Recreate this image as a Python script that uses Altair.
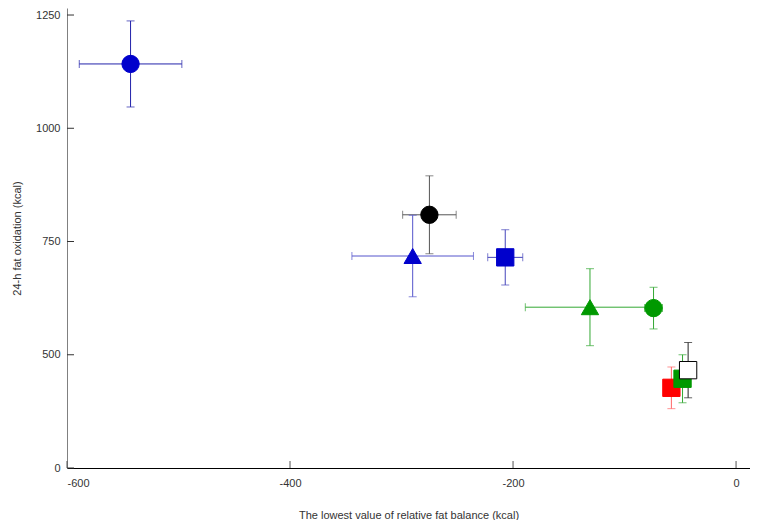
import altair as alt
import pandas as pd

# ---- data ----
point_ids = ["blue_circle", "black_circle", "blue_triangle", "blue_square",
             "green_triangle", "green_circle", "red_square", "green_square", "white_square"]
fat_balance = [-543, -275, -290, -207, -131, -74, -58, -48, -43]
fat_balance_err = [46, 24, 54.5, 15.7, 58, 8, 0, 0, 0]
fat_oxidation = [1142, 809, 718, 715, 605, 603, 427, 447, 466]
fat_oxidation_err = [95, 86, 90, 61, 85, 46, 46, 53, 61]

x_ticks = [-600, -400, -200, 0]
y_ticks = [250, 500, 750, 1000, 1250]
y_tick_labels = ["0", "500", "750", "1000", "1250"]

# ---- styles ----
style = {
    "blue_circle":    dict(shape="circle",      fill="#0000cc", stroke="#0000cc", bar="#2222aa"),
    "black_circle":   dict(shape="circle",      fill="#000000", stroke="#000000", bar="#555555"),
    "blue_triangle":  dict(shape="triangle-up", fill="#0000cc", stroke="#0000cc", bar="#5555cc"),
    "blue_square":    dict(shape="square",      fill="#0000cc", stroke="#0000cc", bar="#4444bb"),
    "green_triangle": dict(shape="triangle-up", fill="#009900", stroke="#009900", bar="#33a833"),
    "green_circle":   dict(shape="circle",      fill="#009900", stroke="#009900", bar="#33a833"),
    "red_square":     dict(shape="square",      fill="#ff0000", stroke="#ff0000", bar="#ff6666"),
    "green_square":   dict(shape="square",      fill="#009900", stroke="#009900", bar="#33a833"),
    "white_square":   dict(shape="square",      fill="#ffffff", stroke="#000000", bar="#222222"),
}

rows = []
for i, pid in enumerate(point_ids):
    s = style[pid]
    rows.append(dict(
        order=i, pid=pid,
        x=fat_balance[i], y=fat_oxidation[i],
        xlo=fat_balance[i] - fat_balance_err[i], xhi=fat_balance[i] + fat_balance_err[i],
        ylo=fat_oxidation[i] - fat_oxidation_err[i], yhi=fat_oxidation[i] + fat_oxidation_err[i],
        xerr=fat_balance_err[i],
        shape=s["shape"], fill=s["fill"], stroke=s["stroke"], bar=s["bar"],
    ))
df = pd.DataFrame(rows)
dfx = df[df["xerr"] > 0]

xcaps = pd.concat([
    dfx[["xlo", "y", "bar", "order"]].rename(columns={"xlo": "cx"}),
    dfx[["xhi", "y", "bar", "order"]].rename(columns={"xhi": "cx"}),
])
ycaps = pd.concat([
    df[["x", "ylo", "bar", "order"]].rename(columns={"ylo": "cy"}),
    df[["x", "yhi", "bar", "order"]].rename(columns={"yhi": "cy"}),
])

W, H = 683, 460
xscale = alt.Scale(domain=[-600, 12.5], nice=False, zero=False)
yscale = alt.Scale(domain=[250, 1265.5], nice=False, zero=False)

label_expr = " : ".join(
    [f"datum.value == {v} ? '{l}'" for v, l in zip(y_ticks, y_tick_labels)]
) + " : ''"

x_axis = alt.Axis(values=x_ticks, ticks=False, tickSize=0, labelPadding=9, grid=False,
                  domainColor="#000000", labelExpr="'' + datum.value",
                  title="The lowest value of relative fat balance (kcal)",
                  titleY=47, titleBaseline="middle", titleFontWeight="normal")
y_axis = alt.Axis(values=y_ticks, ticks=False, tickSize=0, labelPadding=7, grid=False,
                  domainColor="#808080", labelExpr=label_expr,
                  title="24-h fat oxidation (kcal)",
                  titleX=-50, titleY=230, titleAngle=270, titleAlign="center",
                  titleBaseline="middle", titleFontWeight="normal")

base = alt.Chart(df)

hbar = alt.Chart(dfx).mark_rule(strokeWidth=1).encode(
    x=alt.X("xlo:Q", scale=xscale, axis=x_axis),
    x2="xhi:Q",
    y=alt.Y("y:Q", scale=yscale, axis=y_axis),
    color=alt.Color("bar:N", scale=None),
    order="order:Q",
)
vbar = base.mark_rule(strokeWidth=1).encode(
    x=alt.X("x:Q", scale=xscale),
    y=alt.Y("ylo:Q", scale=yscale),
    y2="yhi:Q",
    color=alt.Color("bar:N", scale=None),
)
xcap = alt.Chart(xcaps).mark_tick(orient="vertical", size=8, thickness=1).encode(
    x=alt.X("cx:Q", scale=xscale),
    y=alt.Y("y:Q", scale=yscale),
    color=alt.Color("bar:N", scale=None),
)
ycap = alt.Chart(ycaps).mark_tick(orient="horizontal", size=8, thickness=1).encode(
    x=alt.X("x:Q", scale=xscale),
    y=alt.Y("cy:Q", scale=yscale),
    color=alt.Color("bar:N", scale=None),
)
markers = base.mark_point(filled=True, opacity=1, size=300, strokeWidth=1).encode(
    x=alt.X("x:Q", scale=xscale),
    y=alt.Y("y:Q", scale=yscale),
    shape=alt.Shape("shape:N", scale=None),
    fill=alt.Fill("fill:N", scale=None),
    stroke=alt.Stroke("stroke:N", scale=None),
    order="order:Q",
)

# inward axis ticks
xt = alt.Chart(pd.DataFrame({"v": x_ticks})).mark_rule(color="#555555", strokeWidth=1).encode(
    x=alt.X("v:Q", scale=xscale), y=alt.value(H - 7), y2=alt.value(H))
yt = alt.Chart(pd.DataFrame({"v": y_ticks})).mark_rule(color="#333333", strokeWidth=1).encode(
    y=alt.Y("v:Q", scale=yscale), x=alt.value(0), x2=alt.value(7))

chart = alt.layer(hbar, vbar, xcap, ycap, markers, xt, yt).properties(
    width=W, height=H,
    autosize=alt.AutoSizeParams(type="none"),
    padding={"left": 59, "top": 0, "right": 0, "bottom": 52},
).configure_view(stroke=None).configure_axis(
    labelFont="Liberation Sans", titleFont="Liberation Sans",
    labelFontSize=11, titleFontSize=11,
    labelColor="#333333", titleColor="#333333",
)

chart.save("out.html", embed_options={"renderer": "svg", "actions": False})
